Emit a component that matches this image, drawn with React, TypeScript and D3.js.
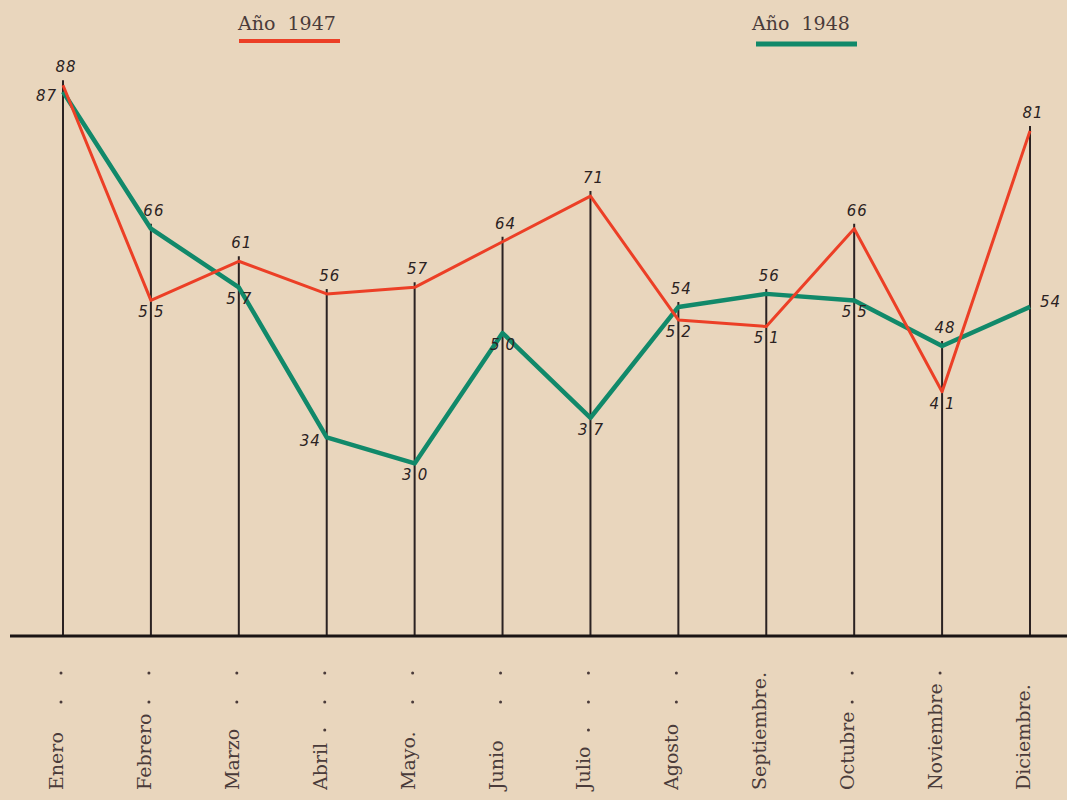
import React from "react";
import * as d3 from "d3";

// meses y valores
const months = ["Enero", "Febrero", "Marzo", "Abril", "Mayo.", "Junio", "Julio", "Agosto", "Septiembre.", "Octubre", "Noviembre", "Diciembre."];
const leaderDots = [2, 2, 2, 3, 2, 2, 3, 2, 0, 2, 1, 0];
const values1947 = [88, 55, 61, 56, 57, 64, 71, 52, 51, 66, 41, 81];
const values1948 = [87, 66, 57, 34, 30, 50, 37, 54, 56, 55, 48, 54];
// dónde va cada número escrito a mano
const place1947 = ["above", "below", "above", "above", "above", "above", "above", "below", "below", "above", "below", "above"];
const place1948 = ["left", "above", "below", "left", "below", "below", "below", "above", "above", "below", "above", "right"];
const legendLabels = ["Año  1947", "Año  1948"];

const W = 1067;
const H = 800;
const baseY = 636;
const bg = "#e9d6bd";
const ink = "#2b2222";
const printInk = "#4a3b3a";
const red = "#ec3f26";
const green = "#11896a";

const x = d3.scalePoint<string>().domain(months).range([63, 1030]);
const y = d3.scaleLinear().domain([0, 100]).range([659, 7]);

const line = d3
  .line<number>()
  .x((_, i) => x(months[i]) as number)
  .y(d => y(d));

const NumLabel = ({ v, i, where }: { v: number; i: number; where: string }) => {
  const px = x(months[i]) as number;
  const py = y(v);
  const s = String(v);
  const common = {
    fontFamily: "DejaVu Sans",
    fontStyle: "italic",
    fontSize: 15,
    fill: ink,
  };
  if (where === "below") {
    return (
      <g>
        <text {...common} x={px - 3} y={py + 17} textAnchor="end">{s[0]}</text>
        <text {...common} x={px + 3} y={py + 17} textAnchor="start">{s[1]}</text>
      </g>
    );
  }
  if (where === "above") {
    return <text {...common} x={px + 3} y={py - 13} textAnchor="middle" letterSpacing={1}>{s}</text>;
  }
  if (where === "left") {
    return <text {...common} x={px - 6} y={py + 9} textAnchor="end" letterSpacing={1}>{s}</text>;
  }
  return <text {...common} x={px + 10} y={py} textAnchor="start" letterSpacing={1}>{s}</text>;
};

export default function App() {
  const leaderY = [673, 702, 730];
  return (
    <svg width={W} height={H} style={{ position: "absolute", left: 0, top: 0, display: "block" }}>
      <rect width={W} height={H} fill={bg} />

      {/* leyenda */}
      <text x={238} y={30} fontFamily="DejaVu Serif" fontSize={19} fill={printInk} style={{ whiteSpace: "pre" }}>
        {legendLabels[0]}
      </text>
      <line x1={239} x2={340} y1={41} y2={41} stroke={red} strokeWidth={4} />
      <text x={752} y={30} fontFamily="DejaVu Serif" fontSize={19} fill={printInk} style={{ whiteSpace: "pre" }}>
        {legendLabels[1]}
      </text>
      <line x1={756} x2={857} y1={44} y2={44} stroke={green} strokeWidth={5} />

      {/* verticales de cada mes */}
      {months.map((m, i) => (
        <line
          key={m}
          x1={x(m)}
          x2={x(m)}
          y1={baseY}
          y2={y(Math.max(values1947[i], values1948[i])) - 5}
          stroke={ink}
          strokeWidth={2}
        />
      ))}

      {/* línea base */}
      <line x1={10} x2={W} y1={baseY} y2={baseY} stroke="#1a1414" strokeWidth={3} />

      <path d={line(values1948) || ""} fill="none" stroke={green} strokeWidth={4.5} strokeLinejoin="round" />
      <path d={line(values1947) || ""} fill="none" stroke={red} strokeWidth={3} strokeLinejoin="round" />

      {values1947.map((v, i) => (
        <NumLabel key={`a${i}`} v={v} i={i} where={place1947[i]} />
      ))}
      {values1948.map((v, i) => (
        <NumLabel key={`b${i}`} v={v} i={i} where={place1948[i]} />
      ))}

      {/* nombres de los meses */}
      {months.map((m, i) => {
        const px = x(m) as number;
        return (
          <g key={`t${m}`}>
            <text
              transform={`translate(${px},790) rotate(-90)`}
              fontFamily="DejaVu Serif"
              fontSize={19}
              fill={printInk}
            >
              {m}
            </text>
            {leaderY.slice(0, leaderDots[i]).map(ly => (
              <circle key={ly} cx={px - 2} cy={ly} r={1.5} fill={printInk} />
            ))}
          </g>
        );
      })}
    </svg>
  );
}
